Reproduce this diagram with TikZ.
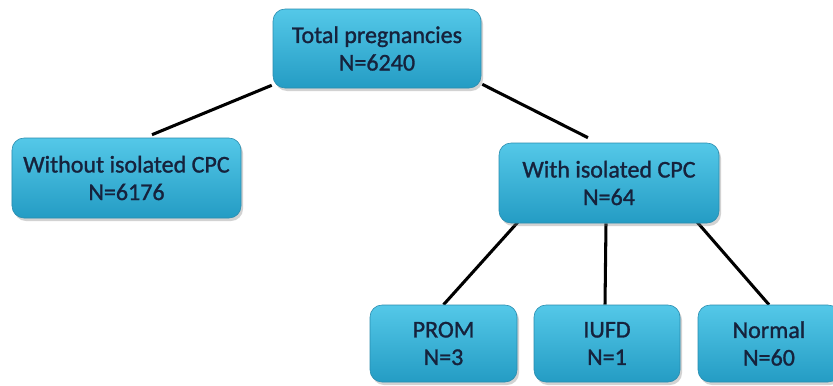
\documentclass[tikz,border=0pt]{standalone}
\usepackage{fontspec}
\setmainfont{Carlito}
\newfontfamily\boxfont[FakeBold=1.2]{Carlito}
\usetikzlibrary{calc,shadows,backgrounds}
\definecolor{boxtop}{RGB}{84,200,232}
\definecolor{boxbot}{RGB}{36,156,196}
\definecolor{boxline}{RGB}{40,140,175}
\definecolor{txt}{RGB}{22,34,60}
\tikzset{
  pbox/.style={rectangle, rounded corners=3.6mm, draw=boxline, line width=0.5pt,
    top color=boxtop, bottom color=boxbot, align=center, inner sep=0pt,
    text=txt, font=\boxfont\fontsize{20.5}{23.5}\selectfont,
    drop shadow={opacity=0.35, shadow xshift=0.6mm, shadow yshift=-0.9mm}},
  conn/.style={line width=2.6pt, black}
}
\begin{document}
\begin{tikzpicture}[x=0.3mm, y=-0.3mm]
\clip (0,0) rectangle (833,385);
\node[pbox, minimum width=62.4mm, minimum height=23.7mm] (tot) at (377,48.5) {Total pregnancies\\N=6240};
\node[pbox, minimum width=68.7mm, minimum height=24mm] (wo) at (126.5,178) {Without isolated CPC\\N=6176};
\node[pbox, minimum width=66mm, minimum height=24mm] (with) at (609,183) {With isolated CPC\\N=64};
\node[pbox, minimum width=44.1mm, minimum height=23.1mm] (prom) at (443.5,343.5) {PROM\\N=3};
\node[pbox, minimum width=43.8mm, minimum height=23.1mm] (iufd) at (607,343.5) {IUFD\\N=1};
\node[pbox, minimum width=42.6mm, minimum height=23.1mm] (norm) at (769,343.5) {Normal\\N=60};
\begin{scope}[on background layer]
\fill[white] (0,0) rectangle (833,385);
\draw[conn] ($(tot.south west)+(-1,-3)$) -- ($(wo.north)+(25.5,-3)$);
\draw[conn] ($(tot.south east)+(1,-4)$) -- ($(with.north)+(-21,-5)$);
\draw[conn] ($(with.south west)+(19,-1)$) -- (prom.north);
\draw[conn] ($(with.south)+(-3,0)$) -- ($(iufd.north)+(-2,0)$);
\draw[conn] ($(with.south east)+(-22,-1)$) -- (norm.north);
\end{scope}
\end{tikzpicture}
\end{document}
